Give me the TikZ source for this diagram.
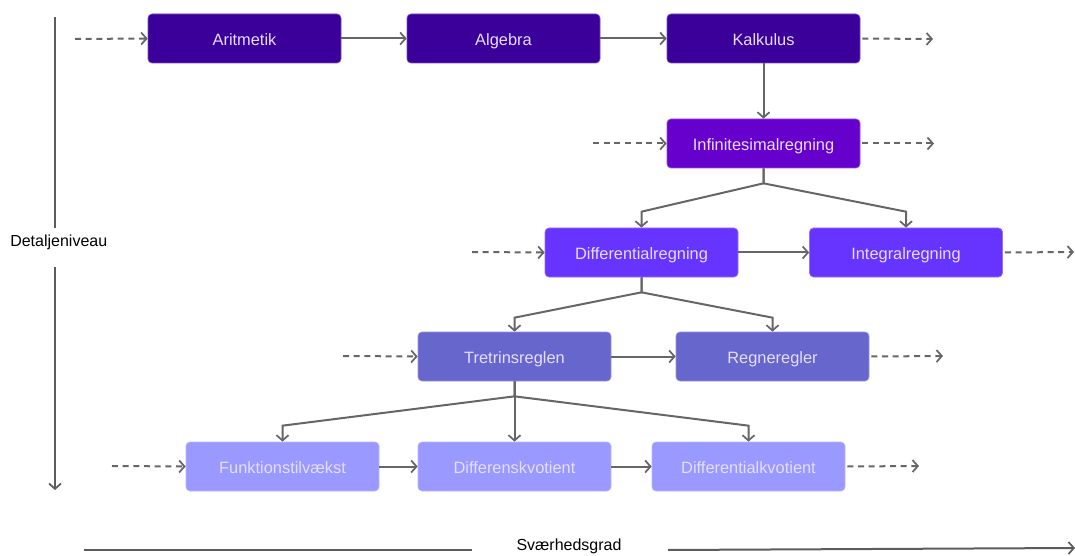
\documentclass[tikz,border=0pt]{standalone}
\usepackage{fontspec}
\setmainfont{Liberation Sans}
\usetikzlibrary{arrows.meta,calc}
\definecolor{lvA}{HTML}{3A0099}
\definecolor{lvB}{HTML}{6600CC}
\definecolor{lvC}{HTML}{6633FF}
\definecolor{lvD}{HTML}{6666CC}
\definecolor{lvE}{HTML}{9999FF}
\definecolor{boxtext}{HTML}{E6DEFF}
\definecolor{linkgray}{HTML}{666666}
\tikzset{
  topic/.style={rectangle, rounded corners=3pt, draw=#1!70!white, line width=0.5pt, fill=#1,
    minimum width=144.75pt, minimum height=36.75pt, inner sep=0pt,
    text height=10.5pt, text depth=0pt,
    text=boxtext, font=\fontsize{12.3}{14}\selectfont},
  link/.style={draw=linkgray, line width=1.5pt, -{Straight Barb[length=4pt,width=9pt,line width=1.3pt]}},
  loose/.style={link, dash pattern=on 4.5pt off 3.5pt},
  axis/.style={draw=linkgray!90!black, line width=1.5pt},
  axislabel/.style={font=\fontsize{12}{14}\selectfont, inner sep=0pt}
}
\begin{document}
\begin{tikzpicture}[x=0.75pt,y=-0.75pt]
\useasboundingbox (0,0) rectangle (1075,556);

% topic boxes
\node[topic=lvA] (arit) at (244.5,38.5) {Aritmetik};
\node[topic=lvA] (alg)  at (503.5,38.5) {Algebra};
\node[topic=lvA] (kal)  at (763.5,38.5) {Kalkulus};
\node[topic=lvB] (inf)  at (763.5,143.5) {Infinitesimalregning};
\node[topic=lvC] (dif)  at (641.5,252.5) {Differentialregning};
\node[topic=lvC] (int)  at (906,252.5) {Integralregning};
\node[topic=lvD] (tre)  at (514.5,356.5) {Tretrinsreglen};
\node[topic=lvD] (reg)  at (772.5,356.5) {Regneregler};
\node[topic=lvE] (fun)  at (282.5,466.5) {Funktionstilvækst};
\node[topic=lvE] (dk)   at (514.5,466.5) {Differenskvotient};
\node[topic=lvE] (dfk)  at (748.5,466.5) {Differentialkvotient};

% sequence links
\draw[link] (arit) -- (alg);
\draw[link] (alg) -- (kal);
\draw[link] (kal) -- (inf);
\draw[link] (dif) -- (int);
\draw[link] (tre) -- (reg);
\draw[link] (fun) -- (dk);
\draw[link] (dk) -- (dfk);

% branching links
\draw[link] (inf.south) -- ++(0,15) -- ($(dif.north)+(0,-16)$) -- (dif.north);
\draw[link] (inf.south) -- ++(0,15) -- ($(int.north)+(0,-16)$) -- (int.north);
\draw[link] (dif.south) -- ++(0,15) -- ($(tre.north)+(0,-14)$) -- (tre.north);
\draw[link] (dif.south) -- ++(0,15) -- ($(reg.north)+(0,-14)$) -- (reg.north);
\draw[link] (tre.south) -- ++(0,15) -- ($(fun.north)+(0,-16)$) -- (fun.north);
\draw[link] (tre.south) -- (dk.north);
\draw[link] (tre.south) -- ++(0,15) -- ($(dfk.north)+(0,-16)$) -- (dfk.north);

% loose ends leading in and out
\coordinate (inA) at (75,39);
\coordinate (inB) at (593,143.5);
\coordinate (inC) at (472,252);
\coordinate (inD) at (343,356);
\coordinate (inE) at (112,466);
\coordinate (outA) at (933,39);
\coordinate (outB) at (934,143.5);
\coordinate (outC) at (1074,252);
\coordinate (outD) at (943,356);
\coordinate (outE) at (919,466);
\draw[loose] (inA) -- (arit.west);
\draw[loose] (inB) -- (inf.west);
\draw[loose] (inC) -- (dif.west);
\draw[loose] (inD) -- (tre.west);
\draw[loose] (inE) -- (fun.west);
\draw[loose] ([xshift=1.5pt]kal.east) -- (outA);
\draw[loose] ([xshift=1.5pt]inf.east) -- (outB);
\draw[loose] ([xshift=1.5pt]int.east) -- (outC);
\draw[loose] ([xshift=1.5pt]reg.east) -- (outD);
\draw[loose] ([xshift=1.5pt]dfk.east) -- (outE);

% axes
\node[axislabel, anchor=west] (detail) at (10,242) {Detaljeniveau};
\coordinate (vtop) at (55,17);
\coordinate (vgap1) at (55,228);
\coordinate (vgap2) at (55,267);
\coordinate (vbot) at (55,490);
\draw[axis] (vtop) -- (vgap1);
\draw[axis, -{Straight Barb[length=4pt,width=9pt,line width=1.3pt]}] (vgap2) -- (vbot);

\node[axislabel, anchor=north] (hard) at (569,539) {Sværhedsgrad};
\coordinate (hleft) at (84,550);
\coordinate (hgap1) at (472,550);
\coordinate (hgap2) at (668,550);
\coordinate (hright) at (1075,548);
\draw[axis] (hleft) -- (hgap1);
\draw[axis, -{Straight Barb[length=4pt,width=9pt,line width=1.3pt]}] (hgap2) -- (hright);
\end{tikzpicture}
\end{document}
